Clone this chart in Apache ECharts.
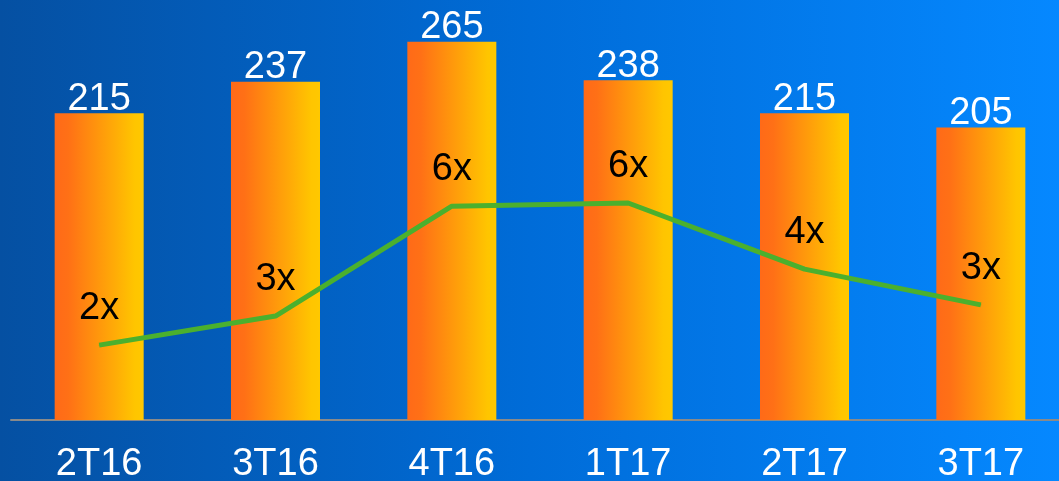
<!DOCTYPE html>
<html>
<head>
<meta charset="utf-8">
<script src="https://cdn.jsdelivr.net/npm/echarts@6/dist/echarts.min.js"></script>
<style>
html,body{margin:0;padding:0;}
#c{width:1059px;height:481px;}
</style>
</head>
<body>
<div id="c"></div>
<script>
var categories = ['2T16', '3T16', '4T16', '1T17', '2T17', '3T17'];
var barValues = [215, 237, 265, 238, 215, 205];
var multipleValues = [2.14, 2.97, 6.11, 6.2, 4.31, 3.29];

var chart = echarts.init(document.getElementById('c'));
chart.setOption({
  backgroundColor: {
    type: 'linear', x: 0, y: 0, x2: 1, y2: 0,
    colorStops: [
      {offset: 0, color: '#0550A2'},
      {offset: 0.5, color: '#006CD8'},
      {offset: 1, color: '#0588FF'}
    ]
  },
  animation: false,
  grid: {left: 11, top: 0, width: 1058, bottom: 61, containLabel: false, outerBoundsMode: 'none'},
  xAxis: {
    type: 'category',
    data: categories,
    axisLine: {show: true, lineStyle: {color: '#8a8a8a', width: 2}},
    axisTick: {show: false},
    axisLabel: {color: '#ffffff', fontSize: 38, fontFamily: 'Liberation Sans, Arial', margin: 26}
  },
  yAxis: [
    {type: 'value', min: 0, max: 294.3, show: false, splitLine: {show: false}},
    {type: 'value', min: 0, max: 12, show: false, splitLine: {show: false}}
  ],
  series: [
    {
      type: 'bar',
      data: barValues,
      barWidth: 89,
      itemStyle: {
        color: {
          type: 'linear', x: 0, y: 0, x2: 1, y2: 0,
          colorStops: [
            {offset: 0, color: '#FF6A18'},
            {offset: 0.15, color: '#FF7016'},
            {offset: 0.9, color: '#FFC500'},
            {offset: 1, color: '#FFC800'}
          ]
        }
      },
      label: {
        show: true, position: 'top', distance: -5,
        color: '#ffffff', fontSize: 38, fontFamily: 'Liberation Sans, Arial'
      }
    },
    {
      type: 'line',
      yAxisIndex: 1,
      data: multipleValues,
      symbol: 'circle',
      symbolSize: 1,
      showSymbol: true,
      itemStyle: {color: '#4BB02E'},
      lineStyle: {color: '#4BB02E', width: 5},
      label: {
        show: true, position: 'top', distance: 17,
        color: '#000000', fontSize: 38, fontFamily: 'Liberation Sans, Arial',
        formatter: function (p) { return Math.round(p.value) + 'x'; }
      },
      z: 5
    }
  ]
});
</script>
</body>
</html>
